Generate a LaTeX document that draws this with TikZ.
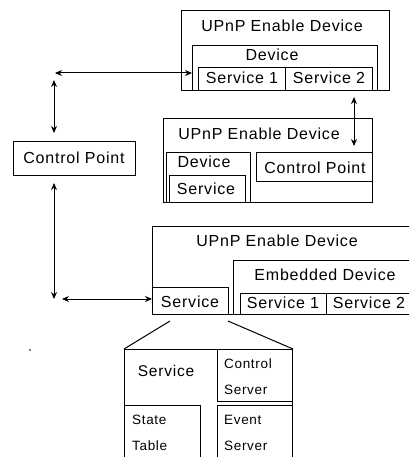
\documentclass[tikz,border=0pt]{standalone}
\usepackage{fontspec}
\setmainfont{Liberation Sans}[LetterSpace=5]
\usetikzlibrary{arrows.meta}
\tikzset{
  box/.style={draw, line width=1pt, inner sep=0pt, anchor=north west},
  lbl/.style={inner sep=0pt, font=\fontsize{16}{18}\selectfont},
  sml/.style={inner sep=0pt, anchor=west, font=\fontsize{13.5}{16}\selectfont},
  link/.style={line width=1pt, {Stealth[length=7pt,width=6pt]}-{Stealth[length=7pt,width=6pt]}},
  fan/.style={line width=1pt}
}
\begin{document}
\begin{tikzpicture}[x=1pt,y=-1pt]
\useasboundingbox (0,0) rectangle (408,457);

% first UPnP device
\node[box, minimum width=208pt, minimum height=80pt] (upA) at (181,10) {};
\node[box, minimum width=185pt, minimum height=45pt] (devA) at (192,45) {};
\node[box, minimum width=87pt, minimum height=23pt] (sA1) at (198,67) {};
\node[box, minimum width=87pt, minimum height=23pt] (sA2) at (285,67) {};
\node[lbl] (tA) at (282,26) {UPnP Enable Device};
\node[lbl] (tdevA) at (272,55) {Device};
\node[lbl] (tsA1) at (242,78) {Service 1};
\node[lbl] (tsA2) at (329,78) {Service 2};

% second UPnP device
\node[box, minimum width=209pt, minimum height=84pt] (upB) at (163,118) {};
\node[box, minimum width=84pt, minimum height=50pt] (devB) at (166,152) {};
\node[box, minimum width=76pt, minimum height=27pt] (sB) at (169,175) {};
\node[box, minimum width=116pt, minimum height=29pt] (cpB) at (256,152) {};
\node[lbl] (tB) at (259,134) {UPnP Enable Device};
\node[lbl] (tdevB) at (204,162) {Device};
\node[lbl] (tsB) at (206,189) {Service};
\node[lbl] (tcpB) at (315,168) {Control Point};

% stand-alone control point
\node[box, minimum width=122pt, minimum height=34pt] (cp) at (13,141) {};
\node[lbl] (tcp) at (74,158) {Control Point};

% third UPnP device with an embedded device
\node[box, minimum width=270pt, minimum height=88pt] (upC) at (152,226) {};
\node[box, minimum width=76pt, minimum height=27pt] (sC) at (152,287) {};
\node[box, minimum width=190pt, minimum height=54pt] (emb) at (233,260) {};
\node[box, minimum width=86pt, minimum height=21pt] (sC1) at (240,293) {};
\node[box, minimum width=90pt, minimum height=21pt] (sC2) at (326,293) {};
\node[lbl] (tC) at (277,241) {UPnP Enable Device};
\node[lbl] (temb) at (325,275) {Embedded Device};
\node[lbl] (tsC) at (190,302) {Service};
\node[lbl] (tsC1) at (283,303) {Service 1};
\node[lbl] (tsC2) at (369,303) {Service 2};

% inside view of a service
\node[box, minimum width=168pt, minimum height=115pt] (det) at (124,349) {};
\node[box, minimum width=75pt, minimum height=52pt] (ctl) at (217,349) {};
\node[box, minimum width=76pt, minimum height=60pt] (st) at (124,405) {};
\node[box, minimum width=75pt, minimum height=60pt] (ev) at (217,405) {};
\node[lbl, font=\fontsize{15.5}{18}\selectfont] (tdet) at (166,371) {Service};
\node[sml] (tctl1) at (224,364) {Control};
\node[sml] (tctl2) at (224,390) {Server};
\node[sml] (tst1) at (132,420) {State};
\node[sml] (tst2) at (132,446) {Table};
\node[sml] (tev1) at (224,420) {Event};
\node[sml] (tev2) at (224,446) {Server};

% free ends of the connectors
\coordinate (hA) at (55,73);
\coordinate (vA1) at (54,80);
\coordinate (vA2) at (54,133);
\coordinate (vB1) at (354,97);
\coordinate (vB2) at (354,146);
\coordinate (vC1) at (54,183);
\coordinate (vC2) at (54,299);
\coordinate (hC) at (62,299);
\coordinate (fl) at (170,321);
\coordinate (fr) at (228,321);

% messages between control points and devices
\draw[link] (hA) -- (hA -| devA.west);
\draw[link] (vA1) -- (vA2);
\draw[link] (vB1) -- (vB2);
\draw[link] (vC1) -- (vC2);
\draw[link] (hC) -- (hC -| sC.west);

% expansion of the service
\draw[fan] (fl) -- (det.north west);
\draw[fan] (fr) -- (det.north east);

\fill (30,350) circle (0.8pt);
\end{tikzpicture}
\end{document}
